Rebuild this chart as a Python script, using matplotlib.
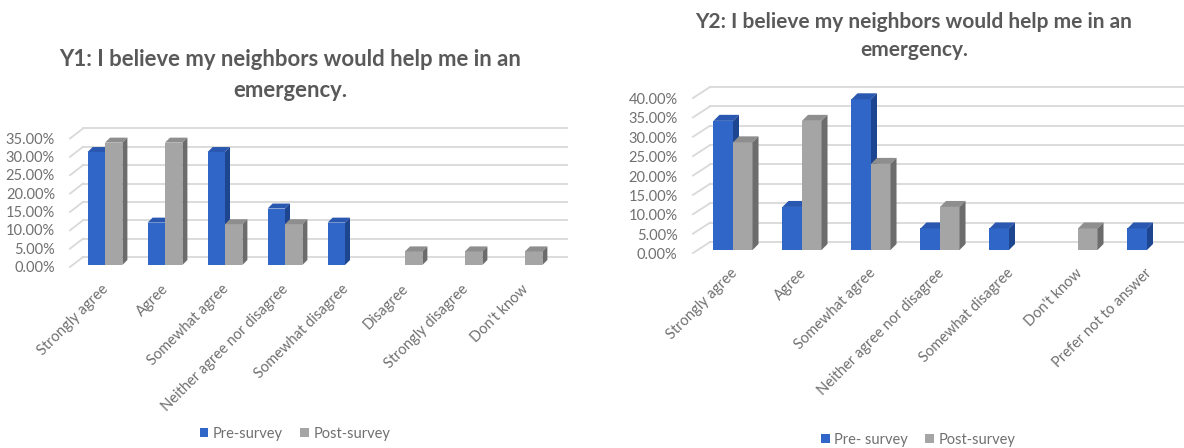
import matplotlib
matplotlib.use("Agg")
import matplotlib.pyplot as plt
from matplotlib.patches import Polygon, Rectangle, Patch
from matplotlib.transforms import offset_copy

plt.rcParams["font.family"] = ["Lato", "DejaVu Sans"]

W, H, DPI = 1184, 448, 100

# ---- survey data -------------------------------------------------------
y1_categories = ["Strongly agree", "Agree", "Somewhat agree",
                 "Neither agree nor disagree", "Somewhat disagree",
                 "Disagree", "Strongly disagree", "Don't know"]
y1_pre = [0.3077, 0.1154, 0.3077, 0.1538, 0.1154, 0.0, 0.0, 0.0]
y1_post = [0.3333, 0.3333, 0.1111, 0.1111, 0.0, 0.0370, 0.0370, 0.0370]
y1_ticks = [0.00, 0.05, 0.10, 0.15, 0.20, 0.25, 0.30, 0.35]
y1_title = ["Y1: I believe my neighbors would help me in an", "emergency."]
y1_legend = ["Pre-survey", "Post-survey"]

y2_categories = ["Strongly agree", "Agree", "Somewhat agree",
                 "Neither agree nor disagree", "Somewhat disagree",
                 "Don't know", "Prefer not to answer"]
y2_pre = [0.3333, 0.1111, 0.3889, 0.0556, 0.0556, 0.0, 0.0556]
y2_post = [0.2778, 0.3333, 0.2222, 0.1111, 0.0, 0.0556, 0.0]
y2_ticks = [0.00, 0.05, 0.10, 0.15, 0.20, 0.25, 0.30, 0.35, 0.40]
y2_title = ["Y2: I believe my neighbors would help me in an", "emergency."]
y2_legend = ["Pre- survey", "Post-survey"]

# ---- styling -----------------------------------------------------------
BLUE = {"front": "#3066C8", "top": "#2A58B0", "side": "#1D4590"}
GRAY = {"front": "#A5A5A5", "top": "#8E8E8E", "side": "#6C6C6C"}
GRID = "#D9D9D9"
TEXT = "#707070"
TITLE = "#595959"
TICK_FS = 10.5

fig = plt.figure(figsize=(W / DPI, H / DPI), dpi=DPI)
renderer = fig.canvas.get_renderer()


def fit_width(text, target_px):
    """Scale a text's font size so that its rendered width is target_px."""
    w = text.get_window_extent(renderer).width
    text.set_fontsize(text.get_fontsize() * target_px / w)
    return text.get_fontsize()


def panel(cats, pre, post, ticks, title, legend_labels, g):
    n = len(cats)
    x0, x1, y0, y1 = g["plot_px"]          # front plane box in pixels
    ax = fig.add_axes([x0 / W, 1 - y0 / H, (x1 - x0) / W, (y0 - y1) / H])
    ymax = ticks[-1]
    ax.set_xlim(-0.5, n - 0.5)
    ax.set_ylim(0, ymax)
    ax.axis("off")

    sx = n / (x1 - x0)          # data units per pixel (x)
    sy = ymax / (y0 - y1)       # data units per pixel (y)

    def shifted(dx, dy):
        return offset_copy(ax.transData, fig=fig, x=dx, y=dy, units="dots")

    # back wall gridlines plus the diagonal side-wall edges
    wdx, wdy = g["wall"]
    for v in ticks:
        ax.plot([-0.5 + wdx * sx, n - 0.5 + g["wall_right"] * sx], [v, v],
                color=GRID, lw=1.3, transform=shifted(0, wdy),
                clip_on=False, zorder=1)
        ax.plot([-0.5 - g["diag"][0] * sx, -0.5 + wdx * sx],
                [v - g["diag"][1] * sy, v + wdy * sy],
                color=GRID, lw=1.3, clip_on=False, zorder=1)
        ax.text(-0.5, v, f"{v * 100:.2f}%", ha="right", va="center",
                color=TEXT, fontsize=TICK_FS,
                transform=shifted(-g["label_gap"], -g["label_drop"]))

    # 3-D style columns: front face, top face and right side face
    bw = g["bar_w"]
    ddx, ddy = g["depth"][0] * sx, g["depth"][1] * sy
    for series, colors, off in ((pre, BLUE, -bw), (post, GRAY, 0.0)):
        for i, v in enumerate(series):
            if v <= 0:
                continue
            left = i + off
            right = left + bw
            ax.add_patch(Rectangle((left, 0), bw, v, facecolor=colors["front"],
                                   edgecolor="none", zorder=3, clip_on=False))
            ax.add_patch(Polygon([(left, v), (right, v), (right + ddx, v + ddy),
                                  (left + ddx, v + ddy)], closed=True,
                                 facecolor=colors["top"], edgecolor="none",
                                 zorder=3, clip_on=False))
            ax.add_patch(Polygon([(right, 0), (right, v), (right + ddx, v + ddy),
                                  (right + ddx, ddy)], closed=True,
                                 facecolor=colors["side"], edgecolor="none",
                                 zorder=3, clip_on=False))

    # slanted category labels
    for i, c in enumerate(cats):
        ax.text(i, 0, c, rotation=45, rotation_mode="anchor", ha="right",
                va="top", color=TEXT, fontsize=TICK_FS,
                transform=shifted(g["cat_dx"], -g["cat_drop"]))

    # two-line title, sized so the first line spans the given width
    cx = g["title_cx"]
    lines = []
    for line, base in zip(title, g["title_base"]):
        lines.append(fig.text(cx / W, 1 - base / H, line, ha="center",
                              va="baseline", fontsize=14, fontweight="bold",
                              color=TITLE))
    fs = fit_width(lines[0], g["title_w"])
    for t in lines[1:]:
        t.set_fontsize(fs)

    handles = [Patch(facecolor=BLUE["front"]), Patch(facecolor=GRAY["front"])]
    fig.legend(handles, legend_labels, loc="center", ncol=2, frameon=False,
               bbox_to_anchor=(g["legend"][0] / W, 1 - g["legend"][1] / H),
               fontsize=TICK_FS, labelcolor=TEXT, handlelength=0.6,
               handleheight=0.6, handletextpad=0.3, columnspacing=1.2)


panel(y1_categories, y1_pre, y1_post, y1_ticks, y1_title, y1_legend, {
    "plot_px": (75, 555, 265, 136.5), "wall": (8, 8), "wall_right": 12,
    "diag": (5, 2), "bar_w": 0.29, "depth": (5, 5), "label_gap": 20,
    "label_drop": 3, "cat_dx": -4, "cat_drop": 17,
    "title_cx": 290, "title_base": (66, 97), "title_w": 464,
    "legend": (295, 434),
})

panel(y2_categories, y2_pre, y2_post, y2_ticks, y2_title, y2_legend, {
    "plot_px": (698.5, 1181.5, 250, 95), "wall": (11.5, 8), "wall_right": 20,
    "diag": (5.5, 3), "bar_w": 0.283, "depth": (6, 6), "label_gap": 21,
    "label_drop": 5, "cat_dx": -3, "cat_drop": 16,
    "title_cx": 914, "title_base": (28, 56), "title_w": 437,
    "legend": (918, 440),
})

fig.savefig("out.png", dpi=DPI, facecolor="white")
